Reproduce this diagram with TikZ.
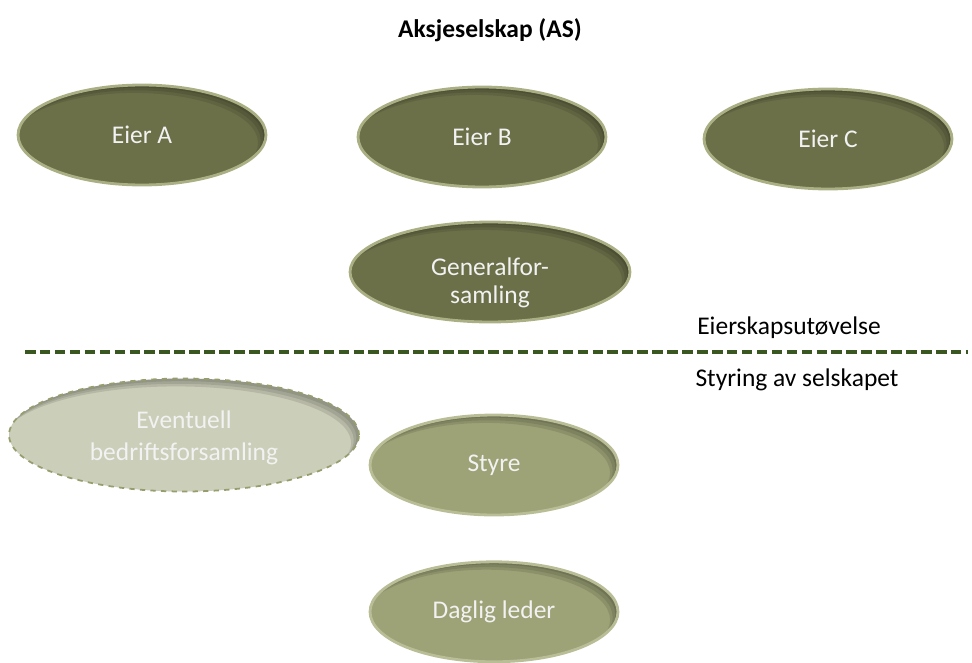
\documentclass[tikz,border=0pt]{standalone}
\usepackage{fontspec}
\setmainfont{Carlito}
\usetikzlibrary{shapes.geometric,positioning,calc}
\definecolor{darkolive}{HTML}{6B7049}
\definecolor{darkrim}{HTML}{AAAF84}
\definecolor{lightolive}{HTML}{9DA277}
\definecolor{lightrim}{HTML}{BABE97}
\definecolor{paleolive}{HTML}{CBCEB8}
\definecolor{palerim}{HTML}{989D6E}
\definecolor{linegreen}{HTML}{3A5722}
\tikzset{
  innershade/.style={path picture={
    \foreach \d in {1.5,3,4.5}
      \fill[black, opacity=0.1, even odd rule]
        let \p1=(path picture bounding box.north east),
            \p2=(path picture bounding box.center) in
        (path picture bounding box.south west) rectangle (path picture bounding box.north east)
        ([shift={(-\d pt,-\d pt)}]\p2) ellipse ({\x1-\x2} and {\y1-\y2});
  }},
  owner/.style={ellipse, fill=darkolive, draw=darkrim, line width=1.6pt, text=white!95!black,
    minimum width=4.96cm, minimum height=2cm, inner sep=0pt, align=center, innershade},
  board/.style={owner, fill=lightolive, draw=lightrim},
  optional/.style={owner, fill=paleolive, draw=palerim, line width=1pt, dashed,
    minimum width=7cm, minimum height=2.26cm},
  caption/.style={text=black}
}
\begin{document}
\begin{tikzpicture}[x=0.02cm, y=-0.02cm, node distance=2cm, auto,
  font=\fontsize{14.5}{17.5}\selectfont]
\useasboundingbox (0,0) rectangle (972,662);
\node(title) [caption, font=\fontsize{14.5}{17.5}\selectfont\bfseries] at (490,30) {Aksjeselskap (AS)};
\node(eierA) [owner] at (142,135) {Eier A};
\node(eierB) [owner] at (482,137) {Eier B};
\node(eierC) [owner] at (828,139) {Eier C};
\node(gf) [owner, minimum width=5.6cm, text height=36pt, text depth=0pt] at (490,272) {\shortstack{Generalfor-\\[3pt]samling}};
\node(eier) [caption] at (789,328) {Eierskapsutøvelse};
\coordinate(left) at (25,352);
\coordinate(right) at (968,352);
\draw[linegreen, line width=2pt, dash pattern=on 6pt off 2.5pt] (left) -- (right);
\node(styring) [caption] at (797,380) {Styring av selskapet};
\node(bf) [optional, text height=29pt, text depth=0pt] at (184,435) {\shortstack{Eventuell\\[5pt]bedriftsforsamling}};
\node(styre) [board] at (494,465) {Styre};
\node(leder) [board, below=0.88cm of styre] {Daglig leder};
\end{tikzpicture}
\end{document}
